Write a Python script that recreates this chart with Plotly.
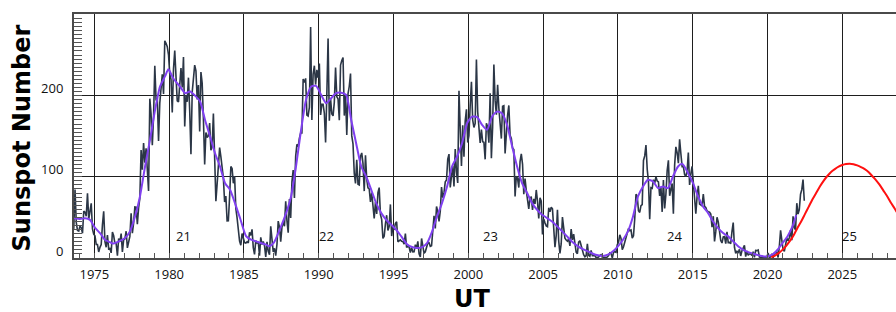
import plotly.graph_objects as go

# ---------------- data (monthly mean sunspot number, SILSO v2 style) ----------------
# series starts July 1973
ssn_1970s = [
    32.8, 36.4, 84.2, 43.6, 33.9, 33.1,                                              # 1973 Jul-Dec
    39.5, 37.2, 30.5, 57.6, 56.5, 51.5, 79.8, 48.0, 57.5, 67.4, 35.8, 29.3,          # 1974
    27.4, 16.7, 16.7, 7.4, 13.1, 16.5, 40.9, 57.6, 20.2, 13.2, 28.1, 11.3,           # 1975
    11.8, 6.3, 32.0, 27.4, 18.1, 17.8, 2.8, 23.9, 19.7, 30.1, 7.6, 22.3,             # 1976
    23.5, 33.0, 12.4, 18.4, 26.6, 55.1, 30.6, 43.0, 62.9, 62.6, 41.6, 61.8,          # 1977
    73.7, 132.9, 108.6, 141.6, 117.4, 135.0, 100.0, 82.5, 196.2, 177.6, 139.0, 174.2,  # 1978
    236.6, 195.3, 196.0, 144.1, 190.8, 212.3, 226.3, 201.9, 267.5, 264.4, 260.3, 250.3,  # 1979
]
ssn_1980s = [
    226.6, 220.1, 179.2, 233.0, 255.5, 223.4, 193.5, 192.3, 220.1, 233.9, 210.0, 247.6,  # 1980
    161.9, 200.6, 192.4, 222.1, 181.1, 127.8, 204.2, 225.4, 237.6, 230.6, 195.3, 213.1,  # 1981
    155.7, 229.0, 215.3, 170.8, 115.1, 154.6, 148.5, 150.6, 166.3, 132.6, 137.3, 177.8,  # 1982
    115.5, 69.9, 91.1, 110.6, 135.9, 124.8, 112.6, 98.4, 68.9, 76.4, 45.6, 45.8,         # 1983
    75.2, 112.7, 110.2, 92.0, 100.8, 60.9, 49.4, 33.7, 20.7, 15.8, 30.1, 24.7,           # 1984
    19.0, 18.3, 19.8, 18.6, 31.6, 27.8, 35.3, 12.8, 4.5, 21.4, 18.6, 19.9,               # 1985
    2.8, 25.5, 16.6, 20.4, 15.1, 1.2, 19.9, 8.1, 4.2, 38.9, 16.7, 7.5,                   # 1986
    12.0, 2.8, 16.9, 45.5, 38.0, 20.0, 38.0, 44.5, 39.0, 69.7, 45.9, 31.2,               # 1987
    72.6, 49.2, 93.7, 108.2, 73.9, 125.2, 140.0, 137.3, 147.7, 153.9, 153.9, 220.4,      # 1988
    216.1, 221.2, 176.1, 174.9, 185.6, 284.5, 169.9, 226.3, 236.8, 213.6, 231.8, 221.8,  # 1989
]
ssn_1990s = [
    239.4, 176.2, 189.4, 189.4, 178.5, 142.3, 201.7, 270.4, 169.0, 196.4, 177.4, 175.1,  # 1990
    191.7, 234.5, 198.7, 196.0, 169.8, 237.6, 243.2, 246.8, 175.4, 201.7, 151.5, 202.2,  # 1991
    211.5, 227.2, 150.4, 140.7, 104.1, 91.9, 120.8, 90.9, 90.1, 125.1, 129.4, 116.5,     # 1992
    82.4, 126.5, 97.0, 86.5, 85.2, 69.2, 80.5, 58.9, 48.7, 68.8, 54.2, 80.6,             # 1993
    86.7, 53.3, 47.6, 24.2, 26.7, 42.0, 52.7, 33.8, 38.6, 66.0, 27.0, 39.3,              # 1994
    34.6, 42.8, 44.5, 20.0, 20.7, 22.3, 20.7, 20.4, 16.9, 30.2, 12.9, 14.3,              # 1995
    13.7, 6.7, 13.0, 7.4, 7.6, 16.4, 11.8, 20.6, 5.1, 1.2, 24.1, 13.0,                   # 1996
    5.7, 7.6, 12.7, 18.5, 18.8, 14.3, 15.1, 31.4, 52.0, 36.3, 63.5, 57.0,                # 1997
    45.2, 57.6, 87.3, 74.2, 80.5, 93.8, 96.1, 121.7, 128.0, 87.0, 105.4, 113.9,          # 1998
    88.1, 134.1, 106.4, 92.5, 206.0, 161.1, 113.4, 163.4, 124.6, 168.8, 183.2, 142.2,    # 1999
]
ssn_2000s = [
    150.7, 188.0, 217.0, 169.9, 160.8, 165.7, 244.3, 180.5, 156.0, 141.6, 158.1, 143.3,  # 2000
    142.6, 121.5, 165.8, 161.7, 142.1, 202.9, 123.0, 161.5, 238.2, 194.1, 176.6, 213.4,  # 2001
    184.6, 170.0, 147.1, 186.9, 187.5, 128.8, 161.0, 175.6, 187.9, 151.2, 147.2, 135.3,  # 2002
    133.5, 75.7, 100.7, 97.9, 86.8, 118.7, 128.3, 115.4, 78.5, 97.8, 82.9, 72.2,         # 2003
    60.6, 74.6, 74.8, 59.2, 72.8, 66.5, 83.8, 69.7, 48.8, 74.2, 70.1, 28.9,              # 2004
    48.1, 43.5, 39.6, 38.7, 61.9, 56.8, 62.4, 60.5, 37.2, 13.2, 27.5, 59.3,              # 2005
    20.9, 5.7, 17.3, 50.3, 37.2, 24.5, 22.2, 20.8, 23.7, 14.9, 35.7, 22.3,               # 2006
    29.3, 18.4, 7.2, 5.4, 19.5, 21.3, 15.1, 9.8, 4.0, 1.5, 2.8, 17.3,                    # 2007
    3.3, 2.1, 9.3, 2.9, 2.9, 3.1, 0.5, 0.5, 1.1, 2.9, 4.1, 0.8,                          # 2008
    1.2, 0.6, 1.2, 1.2, 2.9, 6.3, 5.5, 0.0, 7.1, 7.7, 6.9, 16.3,                         # 2009
]
ssn_2010s = [
    19.5, 28.5, 24.0, 10.4, 13.9, 18.8, 25.2, 29.6, 36.4, 33.6, 34.4, 24.5,              # 2010
    27.3, 48.3, 78.6, 76.1, 58.2, 56.1, 64.5, 65.8, 120.1, 125.7, 139.1, 109.3,          # 2011
    94.4, 47.8, 86.6, 85.9, 96.5, 92.0, 100.1, 94.8, 93.7, 76.5, 87.6, 56.8,             # 2012
    96.1, 60.9, 78.3, 107.3, 120.2, 76.7, 86.2, 91.8, 54.5, 114.4, 136.9, 129.7,         # 2013
    116.7, 146.1, 128.7, 112.5, 112.5, 102.9, 100.2, 106.9, 130.0, 90.0, 103.6, 112.9,   # 2014
    93.0, 66.7, 54.5, 75.3, 88.8, 66.5, 65.8, 64.4, 78.6, 63.6, 62.2, 58.0,              # 2015
    57.0, 56.4, 54.1, 37.9, 51.5, 20.5, 32.4, 50.2, 44.6, 33.4, 21.4, 18.5,              # 2016
    26.1, 26.4, 17.7, 32.3, 18.9, 19.2, 17.8, 32.6, 43.7, 13.2, 5.7, 8.2,                # 2017
    6.8, 10.7, 2.5, 8.9, 13.1, 15.6, 1.6, 8.7, 3.3, 4.9, 4.9, 3.1,                       # 2018
    7.7, 0.8, 9.4, 9.1, 9.9, 1.2, 0.9, 0.5, 1.1, 0.4, 0.5, 1.5,                          # 2019
]
ssn_2020s = [
    6.2, 0.2, 1.5, 5.2, 0.2, 5.8, 6.1, 7.5, 0.6, 14.4, 34.0, 21.8,                       # 2020
    10.4, 8.2, 17.2, 24.5, 21.2, 25.0, 34.3, 22.0, 51.3, 37.4, 34.8, 67.5,               # 2021
    54.0, 59.7, 78.5, 84.1, 96.5, 70.5,                                                  # 2022 Jan-Jun
]
first_year, first_month = 1973, 7

# 13-month smoothed sunspot number
smooth_years = [
    1973.62, 1974.04, 1974.38, 1974.71, 1975.05, 1975.38, 1975.71, 1976.05, 1976.21, 1976.38,
    1976.71, 1977.05, 1977.38, 1977.72, 1978.05, 1978.39, 1978.72, 1979.06, 1979.39, 1979.73,
    1979.95, 1980.28, 1980.73, 1981.07, 1981.4, 1981.73, 1982.07, 1982.4, 1982.74, 1983.07,
    1983.4, 1983.74, 1984.07, 1984.4, 1984.76, 1985.14, 1985.48, 1985.81, 1986.14, 1986.48,
    1986.7, 1987.0, 1987.48, 1987.82, 1988.15, 1988.48, 1988.82, 1989.15, 1989.49, 1989.82,
    1990.16, 1990.49, 1990.83, 1991.16, 1991.5, 1991.83, 1992.17, 1992.5, 1992.84, 1993.17,
    1993.51, 1993.84, 1994.18, 1994.51, 1994.85, 1995.18, 1995.52, 1995.9, 1996.24, 1996.57,
    1996.91, 1997.24, 1997.58, 1997.91, 1998.24, 1998.58, 1998.91, 1999.25, 1999.58, 1999.92,
    2000.25, 2000.59, 2000.92, 2001.25, 2001.59, 2001.92, 2002.25, 2002.59, 2002.93, 2003.26,
    2003.59, 2003.93, 2004.26, 2004.6, 2004.93, 2005.27, 2005.6, 2005.94, 2006.27, 2006.6,
    2006.94, 2007.33, 2007.66, 2008.0, 2008.33, 2008.67, 2009.0, 2009.33, 2009.67, 2010.0,
    2010.34, 2010.67, 2011.01, 2011.34, 2011.68, 2012.01, 2012.35, 2012.68, 2013.01, 2013.35,
    2013.68, 2014.02, 2014.3, 2014.69, 2015.02, 2015.36, 2015.69, 2016.03, 2016.36, 2016.7,
    2017.03, 2017.37, 2017.73, 2018.1, 2018.43, 2018.77, 2019.1, 2019.43, 2019.77, 2020.0,
    2020.33, 2020.67, 2021.0, 2021.33, 2021.67, 2021.92,
]
smooth_values = [
    49, 48, 49, 47, 37, 30.7, 22.5, 19.5, 17.8, 18.5,
    21, 24.6, 32.8, 51, 75.8, 112.7, 145.5, 182.4, 211, 224,
    232.5, 221, 211, 203, 205, 200, 192.7, 170, 149.6, 129,
    112.7, 92, 84, 67.6, 48, 27, 22.5, 20.5, 18.4, 16.4,
    14.5, 19, 38.9, 55.3, 75.8, 112.7, 157.8, 194.7, 211, 212,
    201, 190.6, 196.8, 203, 203.6, 201, 170, 141.4, 112.7, 100.4,
    84, 67.6, 55.3, 47.1, 41, 34.8, 26.6, 17, 13.5, 12.3,
    13.5, 18.4, 32.8, 51.2, 67.6, 88.1, 112.7, 125, 141.4, 166,
    174.2, 173.4, 164, 157.8, 174.2, 180.3, 178.3, 164, 137.3, 112.7,
    92.2, 80, 67.6, 59.4, 53.3, 49.2, 45, 38.9, 32.8, 26.6,
    20, 14.3, 11, 8.2, 5.3, 3.3, 2.5, 4.1, 8.2, 14.3,
    22.5, 32.8, 51.2, 75.8, 88.1, 96.3, 94.2, 86.1, 88.1, 86.1,
    100.4, 112.7, 116, 104.5, 92.2, 75.8, 63.5, 55.3, 45, 36.9,
    30.7, 26.6, 20, 13.5, 9.4, 6.9, 4.9, 3.2, 2, 2,
    4.1, 10.2, 18.4, 26.6, 39, 53,
]

# predicted cycle 25 (red curve)
pred_years = [
    2020.25, 2020.5, 2020.75, 2021.0, 2021.25, 2021.5, 2021.75, 2022.0, 2022.25, 2022.5,
    2022.75, 2023.0, 2023.25, 2023.5, 2023.75, 2024.0, 2024.25, 2024.5, 2024.75, 2025.0,
    2025.25, 2025.5, 2025.75, 2026.0, 2026.25, 2026.5, 2026.75, 2027.0, 2027.25, 2027.5,
    2027.75, 2028.0, 2028.25, 2028.5, 2028.75,
]
pred_values = [
    1, 3, 6, 10, 15, 21, 28, 37, 45, 54,
    63, 72, 80, 88, 95, 101, 106, 109.5, 112.5, 114.5,
    115.7, 116, 115.5, 114, 112, 109.5, 106, 101, 96, 90,
    83, 76, 68, 61, 53,
]

cycle_labels = ["21", "22", "23", "24", "25"]
cycle_label_years = [1980.95, 1990.53, 2001.47, 2013.75, 2025.45]
cycle_label_value = 27

x_tick_years = [1975, 1980, 1985, 1990, 1995, 2000, 2005, 2010, 2015, 2020, 2025]
y_tick_values = [0, 100, 200]

# ---------------- build ----------------
monthly = ssn_1970s + ssn_1980s + ssn_1990s + ssn_2000s + ssn_2010s + ssn_2020s
month_times = []
yr, mo = first_year, first_month
for _ in monthly:
    month_times.append(yr + (mo - 0.5) / 12.0)
    mo += 1
    if mo > 12:
        mo = 1
        yr += 1

fig = go.Figure()
fig.add_trace(go.Scatter(x=month_times, y=monthly, mode="lines",
                         line=dict(color="#2b3646", width=1.6), hoverinfo="skip"))
fig.add_trace(go.Scatter(x=smooth_years, y=smooth_values, mode="lines",
                         line=dict(color="#8040f0", width=2, shape="spline", smoothing=0.6),
                         hoverinfo="skip"))
fig.add_trace(go.Scatter(x=pred_years, y=pred_values, mode="lines",
                         line=dict(color="#ff1010", width=2, shape="spline", smoothing=0.8),
                         hoverinfo="skip"))

tick_font = dict(family="Open Sans", size=13, color="#111111")

annotations = []
for lab, xv in zip(cycle_labels, cycle_label_years):
    annotations.append(dict(x=xv, y=cycle_label_value, xref="x", yref="y", text=lab,
                            showarrow=False, font=tick_font))
annotations.append(dict(x=(22 - 74) / 822, y=0.49, xref="paper", yref="paper",
                        text="Sunspot Number", textangle=-90, showarrow=False,
                        xanchor="center", yanchor="middle",
                        font=dict(family="DejaVu Sans", size=24, color="#000000", weight="bold")))
annotations.append(dict(x=(472 - 74) / 822, y=-0.17, xref="paper", yref="paper",
                        text="UT", showarrow=False, xanchor="center", yanchor="middle",
                        font=dict(family="DejaVu Sans", size=24, color="#000000", weight="bold")))

fig.update_layout(
    width=896, height=312,
    margin=dict(l=74, r=0, t=14, b=54, autoexpand=False),
    plot_bgcolor="white", paper_bgcolor="white",
    showlegend=False,
    annotations=annotations,
    xaxis=dict(
        range=[1973.64, 2028.59],
        tickmode="array", tickvals=x_tick_years, ticktext=[str(v) for v in x_tick_years],
        ticks="", showgrid=True, gridcolor="#1e1e1e", gridwidth=1.2,
        showline=True, linecolor="#4a4a4a", linewidth=2, mirror=True,
        zeroline=False, tickfont=tick_font, automargin=False, ticklabelstandoff=3,
        minor=dict(tickmode="linear", tick0=1975, dtick=1, ticks="inside", ticklen=5,
                   tickwidth=1, tickcolor="#555555", showgrid=False),
    ),
    yaxis=dict(
        range=[0, 300.5],
        tickmode="array", tickvals=y_tick_values, ticktext=[str(v) for v in y_tick_values],
        ticks="inside", ticklen=8, tickwidth=1, tickcolor="#555555",
        showgrid=True, gridcolor="#1e1e1e", gridwidth=1.4,
        showline=True, linecolor="#4a4a4a", linewidth=2, mirror=False,
        zeroline=False, tickfont=tick_font, ticklabelshift=-7, ticklabelstandoff=6,
        automargin=False,
        minor=dict(tickmode="linear", tick0=0, dtick=5, ticks="inside", ticklen=8,
                   tickwidth=1, tickcolor="#555555", showgrid=False),
    ),
)

fig.write_html("out.html", config={"displayModeBar": False},
               post_script="document.body.style.margin='0';document.body.style.padding='0';")
